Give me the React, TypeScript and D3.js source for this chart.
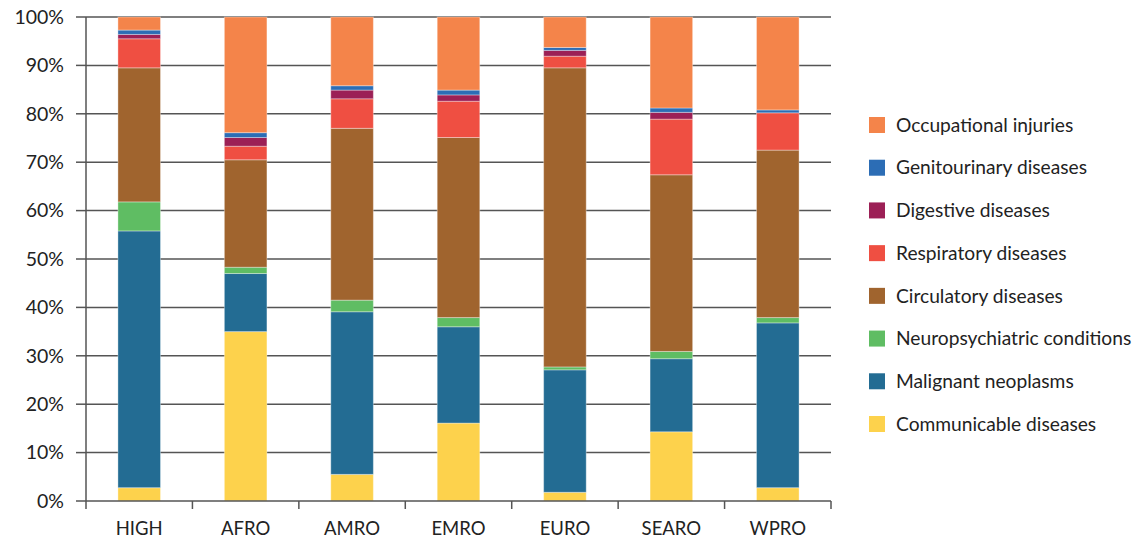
import React from "react";
import * as d3 from "d3";

const regions = ["HIGH", "AFRO", "AMRO", "EMRO", "EURO", "SEARO", "WPRO"];
const seriesNames = [
  "Communicable diseases",
  "Malignant neoplasms",
  "Neuropsychiatric conditions",
  "Circulatory diseases",
  "Respiratory diseases",
  "Digestive diseases",
  "Genitourinary diseases",
  "Occupational injuries",
];
const communicable = [2.75, 35.0, 5.5, 16.1, 1.8, 14.3, 2.75];
const malignant = [53.05, 12.0, 33.6, 19.9, 25.3, 15.1, 34.05];
const neuro = [6.0, 1.3, 2.4, 1.9, 0.6, 1.5, 1.1];
const circulatory = [27.7, 22.2, 35.5, 37.2, 61.8, 36.5, 34.6];
const respiratory = [6.0, 2.8, 6.1, 7.5, 2.4, 11.5, 7.7];
const digestive = [0.9, 1.8, 1.8, 1.3, 1.2, 1.4, 0.0];
const genitourinary = [0.9, 1.0, 0.9, 1.0, 0.6, 0.9, 0.6];
const occupational = [2.7, 23.9, 14.2, 15.1, 6.3, 18.8, 19.2];
const yTicks = [0, 10, 20, 30, 40, 50, 60, 70, 80, 90, 100];
const colors = ["#FDD24C", "#236C93", "#5FBD63", "#A0642E", "#EF4F42", "#9C2056", "#2C6DB5", "#F4844A"];

const seriesValues = [communicable, malignant, neuro, circulatory, respiratory, digestive, genitourinary, occupational];

export default function App() {
  const W = 1139, H = 542;
  const left = 86, right = 831, top = 17, bottom = 501;
  const font = "Lato, 'Open Sans', sans-serif";

  const x = d3.scaleBand<string>().domain(regions).range([left, right]).paddingInner(0.6).paddingOuter(0.3);
  const xb = d3.scaleBand<string>().domain(regions).range([left, right]);
  const y = d3.scaleLinear().domain([0, 100]).range([bottom, top]);

  const table = regions.map((r, i) => {
    const o: Record<string, any> = { region: r };
    seriesNames.forEach((s, k) => (o[s] = seriesValues[k][i]));
    return o;
  });
  const stacked = d3.stack<any>().keys(seriesNames)(table);

  const legendY = d3.scalePoint<string>().domain(seriesNames.slice().reverse()).range([125, 424]);

  return (
    <svg width={W} height={H} style={{ position: "absolute", left: 0, top: 0, background: "#fff" }}>
      {yTicks.map((t) => (
        <g key={t}>
          {t > 0 && <line x1={left} x2={right} y1={y(t)} y2={y(t)} stroke="#555" strokeWidth={1.5} />}
          <line x1={left - 10} x2={left} y1={y(t)} y2={y(t)} stroke="#555" strokeWidth={1.5} />
          <text x={64} y={y(t)} dy="0.35em" textAnchor="end" fontFamily={font} fontSize={19.5} fill="#222">
            {t}%
          </text>
        </g>
      ))}
      {stacked.map((layer, k) => (
        <g key={layer.key}>
          {layer.map((d, i) => {
            const h = y(d[0]) - y(d[1]);
            if (h <= 0) return null;
            return (
              <rect
                key={i}
                x={x(regions[i])}
                width={x.bandwidth()}
                y={y(d[1])}
                height={h}
                fill={colors[k]}
                stroke="#fff"
                strokeOpacity={0.35}
                strokeWidth={1}
              />
            );
          })}
        </g>
      ))}
      <line x1={left} x2={left} y1={top} y2={bottom} stroke="#555" strokeWidth={1.5} />
      <line x1={left} x2={right} y1={bottom} y2={bottom} stroke="#555" strokeWidth={1.5} />
      {regions.map((r) => (
        <line key={"tk" + r} x1={xb(r)} x2={xb(r)} y1={bottom} y2={bottom + 8} stroke="#555" strokeWidth={1.5} />
      ))}
      <line x1={right} x2={right} y1={bottom} y2={bottom + 8} stroke="#555" strokeWidth={1.5} />
      {regions.map((r) => (
        <text key={"lb" + r} x={(x(r) as number) + x.bandwidth() / 2} y={535} textAnchor="middle" fontFamily={font} fontSize={18.5} fill="#222">
          {r}
        </text>
      ))}
      {seriesNames.map((s, k) => (
        <g key={"lg" + s}>
          <rect x={869} y={(legendY(s) as number) - 8} width={16} height={16} fill={colors[k]} />
          <text x={896} y={legendY(s)} dy="0.35em" fontFamily={font} fontSize={19.2} fill="#222">
            {s}
          </text>
        </g>
      ))}
    </svg>
  );
}
